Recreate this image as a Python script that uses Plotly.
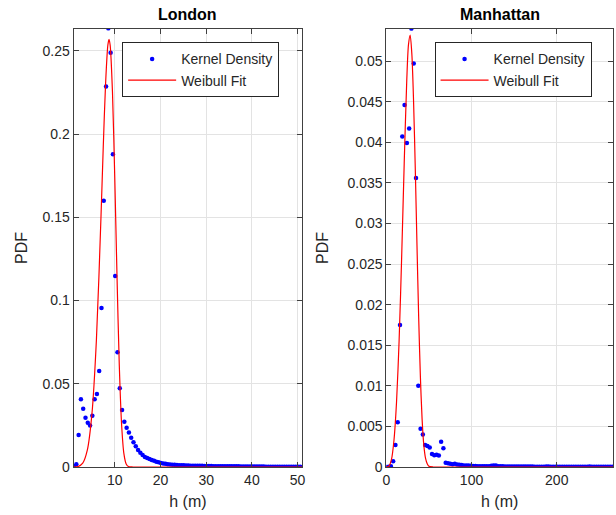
import plotly.graph_objects as go

# ---------------- data ----------------
# London kernel density (x = h in m, y = PDF)
lon_kd_x = [round(1.1 + 0.5 * i, 2) for i in range(100)]
lon_kd_y = [0.0005, 0.0016, 0.0192, 0.0407, 0.0350, 0.0296, 0.0266, 0.0250, 0.0308, 0.0407,
            0.0439, 0.0577, 0.0955, 0.1600, 0.2286, 0.2636, 0.2490, 0.1879, 0.1148, 0.0689,
            0.0473, 0.0342, 0.0272, 0.0236, 0.0208, 0.0176, 0.0148, 0.0124, 0.0102, 0.0086,
            0.0072, 0.0060, 0.0054, 0.0048, 0.0042, 0.0038, 0.0032, 0.0028, 0.0024, 0.0021,
            0.0019, 0.0017, 0.0015, 0.0014, 0.0013, 0.0012, 0.0011, 0.0010, 0.0010, 0.0009,
            0.0009, 0.0008, 0.0008, 0.0008, 0.0007, 0.0007, 0.0007, 0.0006, 0.0006, 0.0006,
            0.0006, 0.0005, 0.0005, 0.0005, 0.0005, 0.0005, 0.0004, 0.0004, 0.0004, 0.0004,
            0.0004, 0.0004, 0.0004, 0.0003, 0.0003, 0.0003, 0.0003, 0.0003, 0.0003, 0.0003,
            0.0003, 0.0003, 0.0003, 0.0003, 0.0002, 0.0002, 0.0002, 0.0002, 0.0002, 0.0002,
            0.0002, 0.0002, 0.0002, 0.0002, 0.0002, 0.0002, 0.0002, 0.0002, 0.0002, 0.0002]

# London Weibull fit curve
lon_wb_x = [1, 2, 3, 4, 5, 6, 7, 7.5, 8, 8.5, 8.75, 9, 9.5, 10, 10.5, 11, 11.5, 12, 12.5, 13, 14, 20, 30, 40, 51]
lon_wb_y = [0.0, 0.0003, 0.0023, 0.0101, 0.0316, 0.0771, 0.1511, 0.1933, 0.2306, 0.2537, 0.2570,
            0.2534, 0.2255, 0.1744, 0.1140, 0.0608, 0.0255, 0.0080, 0.0018, 0.0003, 0.0, 0.0, 0.0, 0.0, 0.0]

# Manhattan kernel density
man_kd_x = [round(2.68 * i, 2) for i in range(100)]
man_kd_y = [0.0, 0.00002, 0.0001, 0.0007, 0.0027, 0.0055, 0.0175, 0.0407, 0.0446, 0.0399,
            0.0417, 0.0540, 0.0497, 0.0356, 0.0100, 0.0047, 0.0040, 0.0027, 0.0026, 0.0024,
            0.0016, 0.00146, 0.0015, 0.00142, 0.0031, 0.0023, 0.00052, 0.00045, 0.0004, 0.00035,
            0.0004, 0.0003, 0.00028, 0.00025, 0.0002, 0.0002, 0.00018, 0.00015, 0.00012, 0.00012,
            0.0001, 0.0001, 0.0001, 0.0001, 0.00009, 0.0001, 0.00014, 0.0002, 0.00018, 0.0001,
            0.00008, 0.00008, 0.00007, 0.00007, 0.00007, 0.00006, 0.00006, 0.00006, 0.00006, 0.00005,
            0.00005, 0.00005, 0.00005, 0.00005, 0.00005, 0.00004, 0.00004, 0.00004, 0.00004, 0.00004,
            0.00006, 0.00005, 0.00004, 0.00004, 0.00003, 0.00003, 0.00003, 0.00003, 0.00003, 0.00003,
            0.00003, 0.00003, 0.00003, 0.00003, 0.00003, 0.00003, 0.00003, 0.00003, 0.00004, 0.00005,
            0.00004, 0.00003, 0.00003, 0.00002, 0.00002, 0.00002, 0.00002, 0.00002, 0.00002, 0.00002]

# Manhattan Weibull fit curve
man_wb_x = [0, 3, 6, 9, 12, 15, 18, 21, 24, 26, 28, 30, 32, 34, 36, 38, 40, 42, 44, 46, 48, 50, 55, 100, 200, 266]
man_wb_y = [0.0, 0.0001, 0.0009, 0.0033, 0.0080, 0.0155, 0.0258, 0.0374, 0.0476, 0.0520, 0.0532,
            0.0508, 0.0450, 0.0367, 0.0273, 0.0184, 0.0111, 0.0059, 0.0027, 0.0011, 0.0004, 0.0001,
            0.0, 0.0, 0.0, 0.0]

titles = ["London", "Manhattan"]
x_label = "h (m)"
y_label = "PDF"

# ---------------- figure ----------------
W, H = 616, 515
FONT = "Liberation Sans, Arial, Helvetica, sans-serif"
TXT = "#262626"

fig = go.Figure()

fig.add_trace(go.Scatter(x=lon_kd_x, y=lon_kd_y, mode="markers", name="Kernel Density",
                         marker=dict(color="#0000ff", size=4.5), xaxis="x", yaxis="y", legend="legend"))
fig.add_trace(go.Scatter(x=lon_wb_x, y=lon_wb_y, mode="lines", name="Weibull Fit",
                         line=dict(color="#ff0000", width=1.2, shape="spline", smoothing=0.8),
                         xaxis="x", yaxis="y", legend="legend"))
fig.add_trace(go.Scatter(x=man_kd_x, y=man_kd_y, mode="markers", name="Kernel Density",
                         marker=dict(color="#0000ff", size=4.5), xaxis="x2", yaxis="y2", legend="legend2"))
fig.add_trace(go.Scatter(x=man_wb_x, y=man_wb_y, mode="lines", name="Weibull Fit",
                         line=dict(color="#ff0000", width=1.2, shape="spline", smoothing=0.8),
                         xaxis="x2", yaxis="y2", legend="legend2"))

axis_common = dict(showline=True, linecolor="#404040", linewidth=1, mirror="allticks",
                   ticks="inside", ticklen=5, tickcolor="#404040", showgrid=True,
                   gridcolor="#e3e3e3", gridwidth=1, zeroline=False,
                   tickfont=dict(family=FONT, size=14, color=TXT))

lx0, lx1 = 70.4 / W, 301.6 / W
rx0, rx1 = 386.7 / W, 1.0

legend_common = dict(xanchor="left", yanchor="top", bgcolor="white", bordercolor="#262626",
                     borderwidth=1, font=dict(family=FONT, size=14, color=TXT),
                     itemwidth=48, tracegroupgap=0)

fig.update_layout(
    width=W, height=H,
    margin=dict(l=0, r=0, t=29, b=48),
    paper_bgcolor="white", plot_bgcolor="white",
    font=dict(family=FONT, size=14, color=TXT),
    xaxis=dict(domain=[lx0, lx1], range=[1, 51], tickvals=[10, 20, 30, 40, 50],
               title=dict(text=x_label, font=dict(size=16, color=TXT), standoff=9),
               anchor="y", **axis_common),
    yaxis=dict(domain=[0, 1], range=[0, 0.2632], tickvals=[0, 0.05, 0.1, 0.15, 0.2, 0.25],
               ticktext=["0", "0.05", "0.1", "0.15", "0.2", "0.25"],
               title=dict(text=y_label, font=dict(size=16, color=TXT), standoff=10),
               anchor="x", **axis_common),
    xaxis2=dict(domain=[rx0, rx1], range=[0, 266], tickvals=[0, 100, 200],
                title=dict(text=x_label, font=dict(size=16, color=TXT), standoff=9),
                anchor="y2", **axis_common),
    yaxis2=dict(domain=[0, 1], range=[0, 0.05395],
                tickvals=[0, 0.005, 0.01, 0.015, 0.02, 0.025, 0.03, 0.035, 0.04, 0.045, 0.05],
                ticktext=["0", "0.005", "0.01", "0.015", "0.02", "0.025", "0.03", "0.035", "0.04", "0.045", "0.05"],
                title=dict(text=y_label, font=dict(size=16, color=TXT), standoff=14),
                anchor="x2", **axis_common),
    legend=dict(x=119.5 / W, y=(467 - 42.3) / 438, **legend_common),
    legend2=dict(x=435.5 / W, y=(467 - 42.3) / 438, **legend_common),
    showlegend=True,
)

for t, (a, b) in zip(titles, [(lx0, lx1), (rx0, rx1)]):
    fig.add_annotation(text="<b>%s</b>" % t, x=(a + b) / 2, y=1, xref="paper", yref="paper",
                       xanchor="center", yanchor="bottom", yshift=4, showarrow=False,
                       font=dict(family=FONT, size=16, color="black"))

fig.write_html("out.html")
